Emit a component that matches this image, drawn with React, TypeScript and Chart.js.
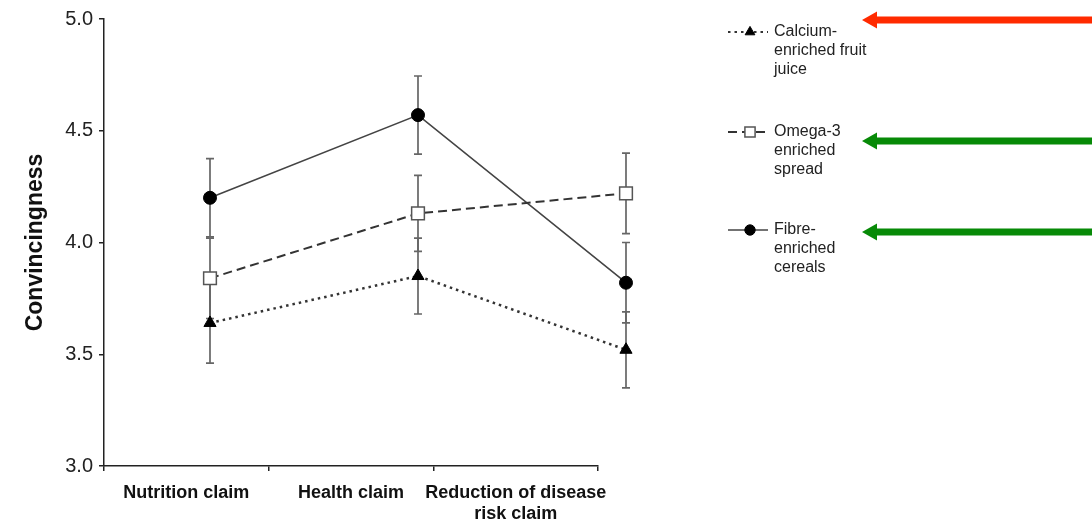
import React, { useEffect, useRef } from "react";
import { Chart, registerables } from "chart.js";

Chart.register(...registerables);

// ---------- data ----------
const categories: (string | string[])[] = [
  "Nutrition claim",
  "Health claim",
  ["Reduction of disease", "risk claim"],
];
const claimPositions = [1, 2, 3];

const calciumMeans = [3.64, 3.85, 3.52];
const calciumErrors = [0.18, 0.17, 0.17];

const omegaMeans = [3.84, 4.13, 4.22];
const omegaErrors = [0.18, 0.17, 0.18];

const fibreMeans = [4.2, 4.57, 3.82];
const fibreErrors = [0.175, 0.175, 0.18];

const yTickValues = [3.0, 3.5, 4.0, 4.5, 5.0];

const seriesNames = [
  "Calcium-enriched fruit juice",
  "Omega-3 enriched spread",
  "Fibre-enriched cereals",
];
const legendLines = [
  ["Calcium-", "enriched fruit", "juice"],
  ["Omega-3", "enriched", "spread"],
  ["Fibre-", "enriched", "cereals"],
];
const arrowColors = ["#ff2a00", "#078a07", "#078a07"];

// ---------- layout constants ----------
const FONT = "'Liberation Sans', Arial, sans-serif";
const legendRowY = [32, 132, 230];
const arrowRowY = [20, 141, 232];

function toPoints(means: number[]) {
  return means.map((y, i) => ({ x: claimPositions[i], y }));
}

function drawMarker(ctx: CanvasRenderingContext2D, style: string, x: number, y: number, r: number, fill: string, stroke: string, lw: number) {
  ctx.save();
  ctx.beginPath();
  if (style === "triangle") {
    const h = r * 1.5;
    const half = r * Math.sqrt(3) / 2;
    ctx.moveTo(x, y - r);
    ctx.lineTo(x + half, y - r + h);
    ctx.lineTo(x - half, y - r + h);
    ctx.closePath();
  } else if (style === "rect") {
    const s = r * Math.SQRT1_2;
    ctx.rect(x - s, y - s, 2 * s, 2 * s);
  } else {
    ctx.arc(x, y, r, 0, Math.PI * 2);
  }
  ctx.fillStyle = fill;
  ctx.fill();
  if (lw > 0) {
    ctx.lineWidth = lw;
    ctx.strokeStyle = stroke;
    ctx.stroke();
  }
  ctx.restore();
}

const errorBarPlugin = {
  id: "errorBars",
  beforeDatasetsDraw(chart: any) {
    const ctx = chart.ctx as CanvasRenderingContext2D;
    const yScale = chart.scales.y;
    chart.data.datasets.forEach((ds: any, di: number) => {
      const meta = chart.getDatasetMeta(di);
      meta.data.forEach((pt: any, i: number) => {
        const v = ds.data[i].y;
        const e = ds.errors[i];
        const top = yScale.getPixelForValue(v + e);
        const bot = yScale.getPixelForValue(v - e);
        const x = pt.x;
        ctx.save();
        ctx.strokeStyle = "#666";
        ctx.lineWidth = 1.7;
        ctx.beginPath();
        ctx.moveTo(x, top);
        ctx.lineTo(x, bot);
        ctx.moveTo(x - 4, top);
        ctx.lineTo(x + 4, top);
        ctx.moveTo(x - 4, bot);
        ctx.lineTo(x + 4, bot);
        ctx.stroke();
        ctx.restore();
      });
    });
  },
  afterDatasetsDraw(chart: any) {
    // points lying beyond the plot's right edge are skipped by Chart.js; draw them with the element itself
    const ctx = chart.ctx as CanvasRenderingContext2D;
    const area = chart.chartArea;
    const full = { left: 0, top: 0, right: chart.width, bottom: chart.height };
    chart.data.datasets.forEach((_ds: any, di: number) => {
      const meta = chart.getDatasetMeta(di);
      meta.data.forEach((pt: any) => {
        if (pt.x > area.right || pt.x < area.left) {
          pt.draw(ctx, full);
        }
      });
    });
  },
};

const legendPlugin = {
  id: "sideLegend",
  afterDraw(chart: any) {
    const ctx = chart.ctx as CanvasRenderingContext2D;
    chart.data.datasets.forEach((ds: any, i: number) => {
      const y0 = legendRowY[i];
      // sample line
      ctx.save();
      ctx.strokeStyle = ds.borderColor;
      ctx.lineWidth = Math.min(ds.borderWidth, 1.8);
      ctx.setLineDash(ds.borderDash || []);
      ctx.beginPath();
      ctx.moveTo(728, y0);
      ctx.lineTo(768, y0);
      ctx.stroke();
      ctx.restore();
      drawMarker(
        ctx,
        ds.pointStyle,
        750,
        y0,
        ds.pointRadius * 0.8,
        ds.pointBackgroundColor,
        ds.pointBorderColor,
        ds.pointBorderWidth
      );
      // text
      ctx.save();
      ctx.fillStyle = "#222";
      ctx.font = `16px ${FONT}`;
      ctx.textBaseline = "middle";
      ctx.textAlign = "left";
      legendLines[i].forEach((line, li) => {
        ctx.fillText(line, 774, y0 + li * 19);
      });
      ctx.restore();

      // arrow
      const ay = arrowRowY[i];
      ctx.save();
      ctx.fillStyle = arrowColors[i];
      ctx.beginPath();
      ctx.moveTo(862, ay);
      ctx.lineTo(877, ay - 8.5);
      ctx.lineTo(877, ay - 3.5);
      ctx.lineTo(1092, ay - 3.5);
      ctx.lineTo(1092, ay + 3.5);
      ctx.lineTo(877, ay + 3.5);
      ctx.lineTo(877, ay + 8.5);
      ctx.closePath();
      ctx.fill();
      ctx.restore();
    });
  },
};

export default function App() {
  const canvasRef = useRef<HTMLCanvasElement | null>(null);

  useEffect(() => {
    if (!canvasRef.current) return;
    Chart.defaults.font.family = FONT;
    const chart = new Chart(canvasRef.current, {
      type: "line",
      data: {
        labels: categories as any,
        datasets: [
          {
            label: seriesNames[0],
            data: toPoints(calciumMeans),
            errors: calciumErrors,
            xAxisID: "x2",
            borderColor: "#333",
            borderWidth: 2.5,
            borderDash: [2.5, 4],
            pointStyle: "triangle",
            pointRadius: 7,
            pointBackgroundColor: "#000",
            pointBorderColor: "#000",
            pointBorderWidth: 1,
            clip: false,
            tension: 0,
          } as any,
          {
            label: seriesNames[1],
            data: toPoints(omegaMeans),
            errors: omegaErrors,
            xAxisID: "x2",
            borderColor: "#333",
            borderWidth: 2,
            borderDash: [9, 5],
            pointStyle: "rect",
            pointRadius: 9,
            pointBackgroundColor: "#fff",
            pointBorderColor: "#555",
            pointBorderWidth: 1.5,
            clip: false,
            tension: 0,
          } as any,
          {
            label: seriesNames[2],
            data: toPoints(fibreMeans),
            errors: fibreErrors,
            xAxisID: "x2",
            borderColor: "#444",
            borderWidth: 1.6,
            borderDash: [],
            pointStyle: "circle",
            pointRadius: 6.5,
            pointBackgroundColor: "#000",
            pointBorderColor: "#000",
            pointBorderWidth: 1,
            clip: false,
            tension: 0,
          } as any,
        ],
      },
      options: {
        responsive: false,
        animation: false,
        events: [],
        layout: { padding: { left: 0, right: 494, top: 19, bottom: 0 } },
        plugins: {
          legend: { display: false },
          tooltip: { enabled: false },
          title: { display: false },
        },
        scales: {
          x: {
            type: "category",
            position: "bottom",
            offset: true,
            grid: {
              offset: true,
              drawOnChartArea: false,
              drawTicks: true,
              tickLength: 5,
              color: "#222",
              lineWidth: 1.5,
            },
            border: { display: true, color: "#222", width: 1.5 },
            ticks: {
              color: "#111",
              font: { size: 18, weight: "bold", lineHeight: 1.2 },
              padding: 11,
              maxRotation: 0,
              autoSkip: false,
            },
            afterFit: (scale: any) => {
              scale.height = 59;
            },
          },
          x2: {
            type: "linear",
            display: false,
            min: 0.4904,
            max: 2.8654,
          },
          y: {
            type: "linear",
            min: 3,
            max: 5,
            afterBuildTicks: (scale: any) => {
              scale.ticks = yTickValues.map((v) => ({ value: v }));
            },
            grid: {
              drawOnChartArea: false,
              drawTicks: true,
              tickLength: 5,
              color: "#222",
              lineWidth: 1.5,
            },
            border: { display: true, color: "#222", width: 1.5 },
            ticks: {
              color: "#222",
              font: { size: 20 },
              padding: 6,
              callback: (v: any) => Number(v).toFixed(1),
            },
            title: {
              display: true,
              text: "Convincingness",
              color: "#111",
              font: { size: 23, weight: "bold" },
              padding: { top: 22, bottom: 0 },
            },
            afterFit: (scale: any) => {
              scale.width = 104;
            },
          },
        },
      } as any,
      plugins: [errorBarPlugin, legendPlugin],
    });
    return () => chart.destroy();
  }, []);

  return (
    <div style={{ position: "fixed", left: 0, top: 0, width: 1092, height: 525, background: "#fff" }}>
      <canvas ref={canvasRef} width={1092} height={525} style={{ display: "block" }} />
    </div>
  );
}
